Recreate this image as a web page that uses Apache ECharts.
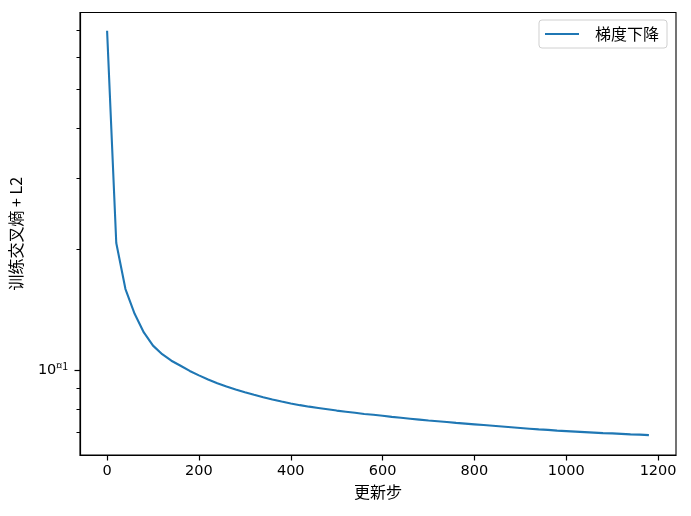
<!DOCTYPE html>
<html>
<head>
<meta charset="utf-8">
<script src="https://cdn.jsdelivr.net/npm/echarts@6/dist/echarts.min.js"></script>
<style>
html,body{margin:0;padding:0;background:#fff;}
#c{width:691px;height:516px;}
</style>
</head>
<body>
<div id="c"></div>
<script>
const steps = [0,20,40,60,80,100,120,140,160,180,200,220,240,260,280,300,320,340,360,380,400,420,440,460,480,500,520,540,560,580,600,620,640,660,680,700,720,740,760,780,800,820,840,860,880,900,920,940,960,980,1000,1020,1040,1060,1080,1100,1120,1140,1160,1180];
const lossGD = [69.7,20.7,15.9,13.8,12.4,11.5,10.95,10.55,10.25,9.95,9.7,9.47,9.27,9.1,8.95,8.81,8.68,8.56,8.45,8.35,8.26,8.18,8.11,8.05,7.99,7.93,7.88,7.83,7.78,7.74,7.70,7.65,7.61,7.57,7.53,7.49,7.46,7.43,7.39,7.36,7.33,7.30,7.27,7.24,7.21,7.18,7.15,7.12,7.10,7.07,7.05,7.03,7.01,6.99,6.97,6.96,6.94,6.92,6.91,6.89];
const xTicks = [0,200,400,600,800,1000,1200];
const yMajorTicks = [10];
const yMinorTicks = [7,8,9,20,30,40,50,60,70];
const seriesName = '梯度下降';
const xName = '更新步';
const yName = '训练交叉熵 + L2';

const CJK = '"Noto Sans CJK JP", "Noto Sans CJK SC", sans-serif';
const NUM = '"DejaVu Sans", sans-serif';
const chart = echarts.init(document.getElementById('c'), null, {renderer: 'canvas'});
const yMin = 6.15, yMax = 77.4;
const axisLineStyle = {show: true, onZero: false, lineStyle: {color: '#000', width: 1.1}};
chart.setOption({
  animation: false,
  backgroundColor: '#fff',
  textStyle: {fontFamily: CJK},
  grid: {left: 80, top: 12.5, width: 596, height: 442.5, show: true, borderColor: '#000', borderWidth: 1.1, containLabel: false},
  legend: {
    data: [seriesName], right: 24, top: 20, orient: 'vertical',
    padding: [6, 8, 6, 6], borderColor: '#d0d0d0', borderWidth: 1, borderRadius: 3,
    backgroundColor: 'rgba(255,255,255,0.8)',
    itemWidth: 34, itemHeight: 2, itemGap: 6, icon: 'rect',
    textStyle: {fontFamily: CJK, fontSize: 16, lineHeight: 16, color: '#000', padding: [0, 0, 0, 11]}
  },
  xAxis: {
    type: 'value', min: -59, max: 1239,
    name: xName, nameLocation: 'middle', nameGap: 29,
    nameTextStyle: {fontFamily: CJK, fontSize: 16, color: '#000'},
    axisLine: axisLineStyle,
    splitLine: {show: false},
    axisTick: {show: true, inside: false, customValues: xTicks, length: 5.5, lineStyle: {color: '#000', width: 1.2}},
    axisLabel: {customValues: xTicks, margin: 9, fontFamily: NUM, fontSize: 14.5, color: '#000', formatter: v => String(v)}
  },
  yAxis: [{
    type: 'log', logBase: 10, min: yMin, max: yMax,
    name: yName, nameLocation: 'middle', nameGap: 56, nameRotate: 90,
    nameTextStyle: {fontFamily: CJK, fontSize: 16, color: '#000'},
    axisLine: axisLineStyle,
    splitLine: {show: false},
    axisTick: {show: true, inside: false, customValues: yMajorTicks, length: 5.5, lineStyle: {color: '#000', width: 1.2}},
    axisLabel: {
      customValues: yMajorTicks, margin: 12, fontFamily: NUM, fontSize: 14.5, color: '#000',
      formatter: v => '10{s|¤1}',
      rich: {s: {fontSize: 10.5, fontFamily: CJK, color: '#000', padding: [0, 0, 8, 0]}}
    }
  }, {
    type: 'log', logBase: 10, min: yMin, max: yMax, position: 'left', offset: 0,
    axisLine: axisLineStyle,
    splitLine: {show: false},
    axisTick: {show: true, inside: false, customValues: yMinorTicks, length: 3.5, lineStyle: {color: '#000', width: 1}},
    axisLabel: {show: false, customValues: yMinorTicks}
  }],
  series: [{
    name: seriesName, type: 'line', yAxisIndex: 0,
    data: steps.map((s, i) => [s, lossGD[i]]),
    showSymbol: false, symbol: 'none',
    lineStyle: {color: '#1f77b4', width: 2.1},
    itemStyle: {color: '#1f77b4'}
  }]
});
</script>
</body>
</html>
